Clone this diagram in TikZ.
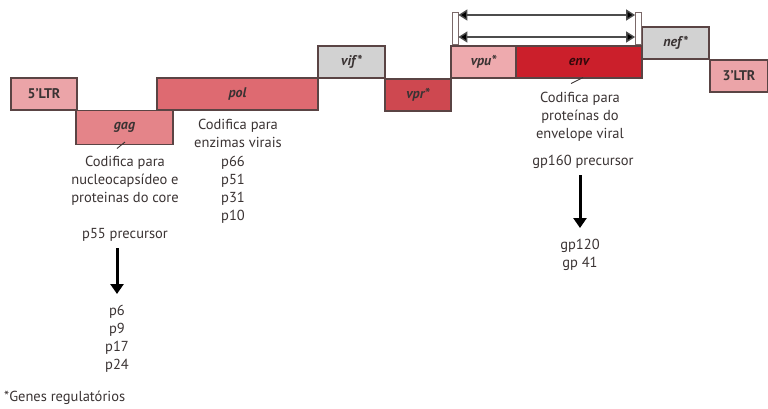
\documentclass[tikz,border=0pt]{standalone}
\usepackage{fontspec}
\setmainfont{PT Sans}
\usetikzlibrary{arrows.meta}
\definecolor{edge}{HTML}{5A4444}
\definecolor{ltrc}{HTML}{EBA4A8}
\definecolor{gagc}{HTML}{E48489}
\definecolor{polc}{HTML}{DE6A71}
\definecolor{grayc}{HTML}{D2D2D2}
\definecolor{vprc}{HTML}{CE4850}
\definecolor{vpuc}{HTML}{EEAAAE}
\definecolor{envc}{HTML}{CB1F2B}
\definecolor{txt}{HTML}{3A3333}
\tikzset{
  gene/.style={draw=edge, line width=1.1pt, inner sep=0pt, text=txt,
    font=\fontsize{14}{16}\selectfont\bfseries\itshape},
  lbl/.style={inner sep=0pt, align=center, text=txt,
    font=\fontsize{14.5}{18}\selectfont},
  brk/.style={draw=edge!80, fill=white, line width=0.8pt, inner sep=0pt,
    minimum width=6pt, minimum height=32pt},
  span/.style={draw=black!70, line width=1.4pt,
    {Triangle[width=11pt,length=9pt,fill=black]}-{Triangle[width=11pt,length=9pt,fill=black]}},
  lead/.style={draw=txt, line width=0.9pt},
  bigarr/.style={draw=black, line width=3pt, -{Triangle[width=13pt,length=10pt]}}
}
\begin{document}
\begin{tikzpicture}[x=1pt,y=-1pt]
\useasboundingbox (0,0) rectangle (768,408);
% gene boxes
\node[gene, fill=ltrc, minimum width=66pt, minimum height=32pt, font=\fontsize{14}{16}\selectfont\bfseries] (ltr5) at (44,94) {5’LTR};
\node[gene, fill=gagc, minimum width=97pt, minimum height=34pt] (gag) at (124.5,127.5) {gag};
\node[gene, fill=polc, minimum width=161pt, minimum height=32pt] (pol) at (237.5,94) {pol};
\node[gene, fill=grayc, minimum width=67pt, minimum height=32pt] (vif) at (351.5,62) {vif*};
\node[gene, fill=vprc, minimum width=66pt, minimum height=32pt] (vpr) at (418,95) {vpr*};
\node[gene, fill=vpuc, minimum width=65pt, minimum height=32pt] (vpu) at (483.5,62) {vpu*};
\node[gene, fill=envc, minimum width=126pt, minimum height=32pt, text=black!75!envc] (env) at (579,62) {env};
\node[gene, fill=grayc, minimum width=67pt, minimum height=32pt] (nef) at (675.5,43) {nef*};
\node[gene, fill=ltrc, minimum width=58pt, minimum height=32pt, font=\fontsize{14}{16}\selectfont\bfseries] (ltr3) at (739,76) {3’LTR};
% brackets and spans
\node[brk] (bl) at (455,28) {};
\node[brk] (br) at (638.5,28) {};
\draw[span] (bl.east |- 0,15) -- (br.west |- 0,15);
\draw[span] (bl.east |- 0,37) -- (br.west |- 0,37);
% gag annotations
\node[lbl] (gagtxt) at (125,181) {Codifica para\\nucleocapsídeo e\\proteinas do core};
\node[lbl] (p55) at (125,235) {p55 precursor};
\node[lbl] (gagprod) at (117,339) {p6\\p9\\p17\\p24};
\coordinate (gagl1) at (125,142);
\coordinate (gagl2) at (117,148.5);
\draw[lead] (gagl1) -- (gagl2);
\draw[bigarr] (gagprod.north |- 0,248) -- (gagprod.north |- 0,294);
% pol annotations
\node[lbl] (poltxt) at (238,133) {Codifica para\\enzimas virais};
\node[lbl, align=left] (polprod) at (233,190) {p66\\p51\\p31\\p10};
% env annotations
\node[lbl] (envtxt) at (580,117) {Codifica para\\proteínas do\\envelope viral};
\node[lbl] (gp160) at (583,162) {gp160 precursor};
\node[lbl] (envprod) at (580,254.5) {gp120\\gp 41};
\coordinate (envl1) at (583,77.5);
\coordinate (envl2) at (571,83.5);
\draw[lead] (envl1) -- (envl2);
\draw[bigarr] (envprod.north |- 0,175) -- (envprod.north |- 0,228);
% note
\node[lbl, anchor=west] (note) at (4,398) {*Genes regulatórios};
\end{tikzpicture}
\end{document}
